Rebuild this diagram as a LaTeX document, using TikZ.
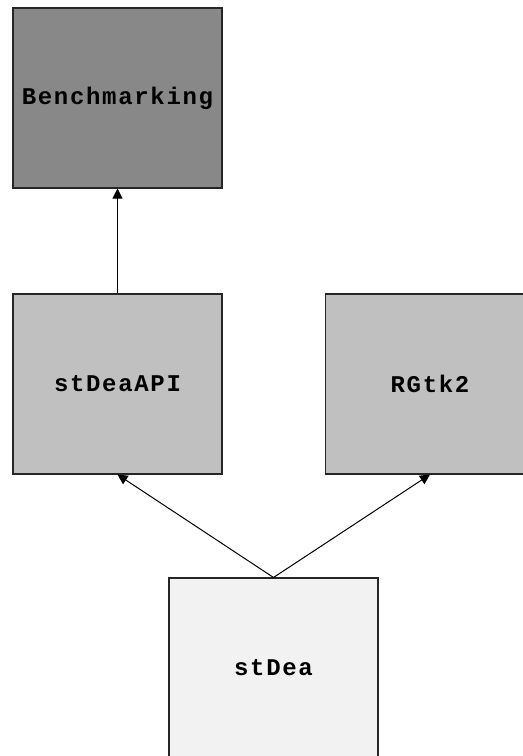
\documentclass[tikz,border=0pt]{standalone}
\usepackage{fontspec}
\setmonofont{Liberation Mono}
\usetikzlibrary{arrows.meta}
\definecolor{pkgdark}{HTML}{888888}
\definecolor{pkgmid}{HTML}{C0C0C0}
\definecolor{pkglight}{HTML}{F2F2F2}
\tikzset{
  pkg node/.style={rectangle,draw=black!85,line width=0.8pt,minimum width=209*0.75pt,
    minimum height=180*0.75pt,inner sep=0pt,
    font=\fontsize{18pt}{21pt}\ttfamily\bfseries\addfontfeature{LetterSpace=7}},
  dep edge/.style={-{Triangle[length=7.5pt,width=7.5pt]},line width=0.75pt},
}

\begin{document}
\begin{tikzpicture}[x=0.75pt,y=-0.75pt]
  \clip (0,0) rectangle (523,756);
  % package boxes
  \node[pkg node,fill=pkgdark] (bench) at (117.5,98) {Benchmarking};
  \node[pkg node,fill=pkgmid] (api) at (117.5,384) {stDeaAPI};
  \node[pkg node,fill=pkgmid] (rgtk) at (430,384) {RGtk2};
  \node[pkg node,fill=pkglight] (stdea) at (273.5,668) {stDea};
  % dependencies
  \draw[dep edge] (api) -- (bench);
  \draw[dep edge] (stdea.north) -- (api.south);
  \draw[dep edge] (stdea.north) -- (rgtk.south);
\end{tikzpicture}
\end{document}
